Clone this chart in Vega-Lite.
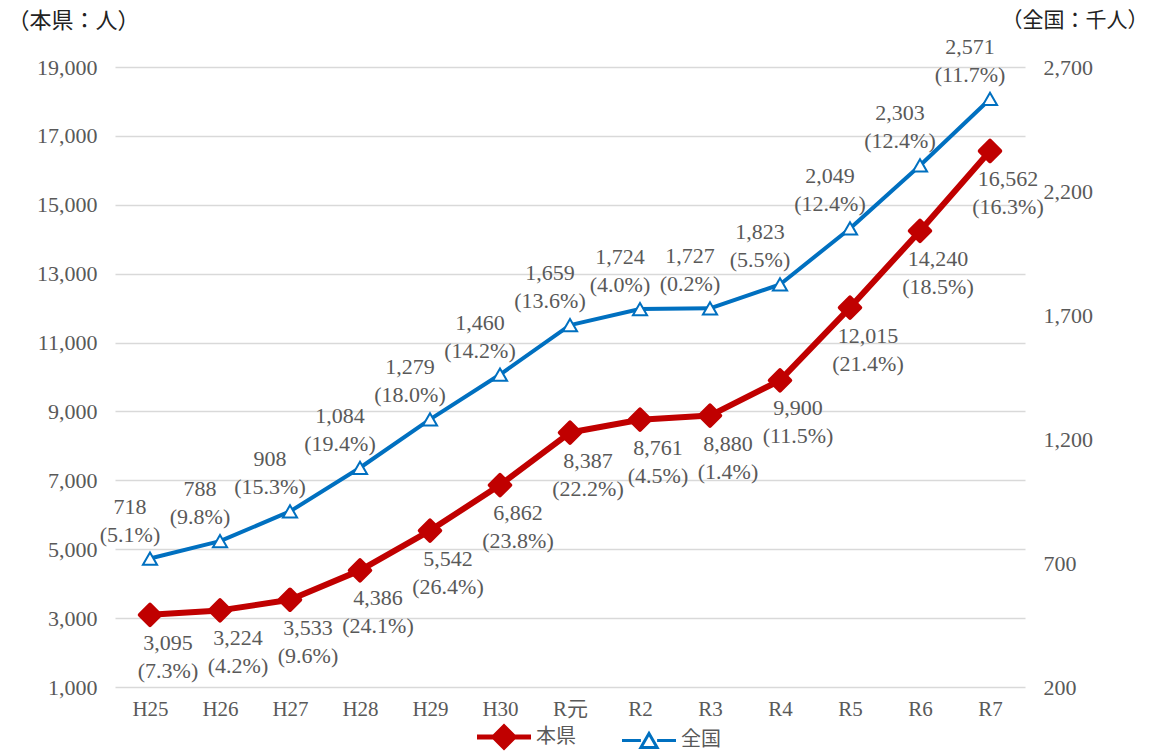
{
  "$schema": "https://vega.github.io/schema/vega-lite/v6.json",
  "width": 910,
  "height": 620,
  "autosize": "none",
  "padding": {"left": 115, "top": 67, "right": 129, "bottom": 66},
  "background": "white",
  "config": {"view": {"stroke": null}, "font": "Liberation Serif"},
  "data": {
    "values": [
      {"year": "H25", "pref": 3095, "pp": "(7.3%)", "nat": 718, "np": "(5.1%)"},
      {"year": "H26", "pref": 3224, "pp": "(4.2%)", "nat": 788, "np": "(9.8%)"},
      {"year": "H27", "pref": 3533, "pp": "(9.6%)", "nat": 908, "np": "(15.3%)"},
      {"year": "H28", "pref": 4386, "pp": "(24.1%)", "nat": 1084, "np": "(19.4%)"},
      {"year": "H29", "pref": 5542, "pp": "(26.4%)", "nat": 1279, "np": "(18.0%)"},
      {"year": "H30", "pref": 6862, "pp": "(23.8%)", "nat": 1460, "np": "(14.2%)"},
      {"year": "R元", "pref": 8387, "pp": "(22.2%)", "nat": 1659, "np": "(13.6%)"},
      {"year": "R2", "pref": 8761, "pp": "(4.5%)", "nat": 1724, "np": "(4.0%)"},
      {"year": "R3", "pref": 8880, "pp": "(1.4%)", "nat": 1727, "np": "(0.2%)"},
      {"year": "R4", "pref": 9900, "pp": "(11.5%)", "nat": 1823, "np": "(5.5%)"},
      {"year": "R5", "pref": 12015, "pp": "(21.4%)", "nat": 2049, "np": "(12.4%)"},
      {"year": "R6", "pref": 14240, "pp": "(18.5%)", "nat": 2303, "np": "(12.4%)"},
      {"year": "R7", "pref": 16562, "pp": "(16.3%)", "nat": 2571, "np": "(11.7%)"}
    ]
  },
  "resolve": {"scale": {"y": "independent"}, "axis": {"y": "independent"}},
  "layer": [
    {
      "encoding": {
        "x": {
          "field": "year", "type": "ordinal", "sort": null,
          "scale": {"padding": 0.5},
          "axis": {
            "title": null, "labelAngle": 0, "domain": false, "ticks": false, "grid": false,
            "labelPadding": 11, "labelFont": "Liberation Serif, Noto Sans CJK JP",
            "labelFontSize": 21, "labelColor": "#595959"
          }
        },
        "y": {
          "field": "pref", "type": "quantitative",
          "scale": {"domain": [1000, 19000], "nice": false, "zero": false},
          "axis": {
            "orient": "left", "values": [1000, 3000, 5000, 7000, 9000, 11000, 13000, 15000, 17000, 19000],
            "labelExpr": "format(datum.value, ',')", "domain": false, "ticks": false, "grid": true,
            "gridColor": "#D9D9D9", "gridWidth": 1.5, "labelPadding": 18,
            "labelFont": "Liberation Serif", "labelFontSize": 22, "labelColor": "#595959",
            "title": "（本県：人）", "titleAngle": 0, "titleAlign": "left", "titleBaseline": "middle",
            "titleX": -108, "titleY": -47, "titleFont": "Noto Sans CJK JP", "titleFontSize": 22,
            "titleFontWeight": "normal", "titleColor": "#222222"
          }
        }
      },
      "layer": [
        {
          "mark": {"type": "line", "strokeWidth": 6, "strokeJoin": "round", "strokeCap": "round"},
          "encoding": {
            "color": {
              "datum": "本県",
              "scale": {"domain": ["本県", "全国"], "range": ["#C00000", "#0070C0"]},
              "legend": {
                "orient": "none", "legendX": 379, "legendY": 660, "direction": "horizontal",
                "title": null, "symbolSize": 2916, "labelFont": "Noto Sans CJK JP",
                "labelFontSize": 20, "labelColor": "#595959", "labelOffset": 22, "columnPadding": 40,
                "encode": {
                  "symbols": {
                    "update": {
                      "shape": {"signal": "datum.value === '本県' ? 'M-1,0H1M0,-0.37L0.37,0L0,0.37L-0.37,0Z' : 'M-1,0H-0.3M0.3,0H1M0,-0.26L0.3,0.26L-0.3,0.26Z'"},
                      "fill": {"signal": "datum.value === '本県' ? '#C00000' : '#ffffff'"},
                      "stroke": {"signal": "datum.value === '本県' ? '#C00000' : '#0070C0'"},
                      "strokeWidth": {"signal": "datum.value === '本県' ? 5 : 3"},
                      "fillOpacity": {"value": 1},
                      "strokeOpacity": {"value": 1}
                    }
                  }
                }
              }
            }
          }
        },
        {
          "mark": {"type": "point", "shape": "diamond", "filled": true, "size": 420, "fill": "#C00000", "stroke": "#C00000", "strokeWidth": 4, "strokeJoin": "round", "opacity": 1}
        },
        {
          "mark": {"type": "text", "dx": 18, "dy": 28, "fontSize": 22, "font": "Liberation Serif", "fill": "#595959", "baseline": "middle"},
          "encoding": {"text": {"field": "pref", "type": "quantitative", "format": ","}}
        },
        {
          "mark": {"type": "text", "dx": 18, "dy": 56, "fontSize": 22, "font": "Liberation Serif", "fill": "#595959", "baseline": "middle"},
          "encoding": {"text": {"field": "pp"}}
        }
      ]
    },
    {
      "encoding": {
        "x": {"field": "year", "type": "ordinal", "sort": null},
        "y": {
          "field": "nat", "type": "quantitative",
          "scale": {"domain": [200, 2700], "nice": false, "zero": false},
          "axis": {
            "orient": "right", "values": [200, 700, 1200, 1700, 2200, 2700],
            "labelExpr": "format(datum.value, ',')", "domain": false, "ticks": false, "grid": false, "labelPadding": 18,
            "labelFont": "Liberation Serif", "labelFontSize": 22, "labelColor": "#595959",
            "title": "（全国：千人）", "titleAngle": 0, "titleAlign": "left", "titleBaseline": "middle",
            "titleX": -24, "titleY": -47, "titleFont": "Noto Sans CJK JP", "titleFontSize": 21,
            "titleFontWeight": "normal", "titleColor": "#222222"
          }
        }
      },
      "layer": [
        {
          "mark": {"type": "line", "strokeWidth": 4, "strokeJoin": "round", "strokeCap": "round"},
          "encoding": {"color": {"datum": "全国"}}
        },
        {
          "mark": {"type": "point", "shape": "triangle-up", "filled": true, "size": 200, "fill": "#ffffff", "stroke": "#0070C0", "strokeWidth": 2, "opacity": 1}
        },
        {
          "mark": {"type": "text", "dx": -20, "dy": -52, "fontSize": 22, "font": "Liberation Serif", "fill": "#595959", "baseline": "middle"},
          "encoding": {"text": {"field": "nat", "type": "quantitative", "format": ","}}
        },
        {
          "mark": {"type": "text", "dx": -20, "dy": -24, "fontSize": 22, "font": "Liberation Serif", "fill": "#595959", "baseline": "middle"},
          "encoding": {"text": {"field": "np"}}
        }
      ]
    }
  ]
}
